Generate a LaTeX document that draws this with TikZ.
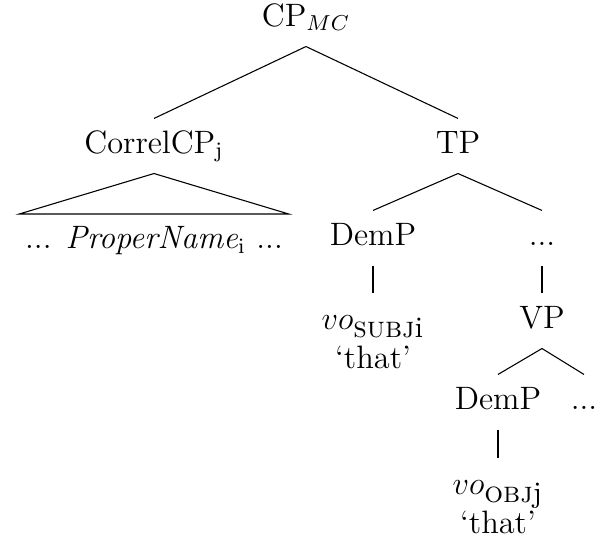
\documentclass[tikz,border=0pt,12pt]{standalone}
\usepackage{amsmath}
\begin{document}
\begin{tikzpicture}[x=0.3704pt,y=-0.3704pt,
  tn/.style={inner sep=4pt, text height=8.6pt, text depth=3.4pt, anchor=base},
  roofchild/.style={inner xsep=2pt, inner ysep=4pt, text height=8.6pt, text depth=3.4pt, anchor=north},
  leaf/.style={inner sep=4pt, align=center, anchor=north},
  sub/.style={},
  edge/.style={line width=0.4pt}]
\useasboundingbox (0,0) rectangle (596,546);
\node[tn] (cp) at (306,26) {CP$_{MC}$};
\node[tn] (correl) at (154,153) {CorrelCP$_\mathrm{j}$};
\node[tn] (tp) at (458,153) {TP};
\node[roofchild] (proper) at (154,214) {... \textit{ProperName}$_\mathrm{i}$ ...};
\node[tn] (dem1) at (373,245) {DemP};
\node[tn] (dots1) at (542,245) {...};
\node[leaf] (vo1) at (373,293) {\rule{0pt}{9.3pt}$vo_{\text{\small\textsc{subj}i}}$\\`that'};
\node[tn] (vp) at (542,328) {VP};
\node[tn] (dem2) at (498,409) {DemP};
\node[tn] (dots2) at (584,409) {...};
\node[leaf] (vo2) at (498,458) {\rule{0pt}{9.3pt}$vo_{\text{\small\textsc{obj}j}}$\\`that'};
\draw[edge] (cp.south) -- (correl.north);
\draw[edge] (cp.south) -- (tp.north);
\draw[edge] (correl.south) -- (proper.north west) -- (proper.north east) -- cycle;
\draw[edge] (tp.south) -- (dem1.north);
\draw[edge] (tp.south) -- (dots1.north);
\draw[edge] (dem1.south) -- (vo1.north);
\draw[edge] (dots1.south) -- (vp.north);
\draw[edge] (vp.south) -- (dem2.north);
\draw[edge] (vp.south) -- (dots2.north);
\draw[edge] (dem2.south) -- (vo2.north);
\end{tikzpicture}
\end{document}
